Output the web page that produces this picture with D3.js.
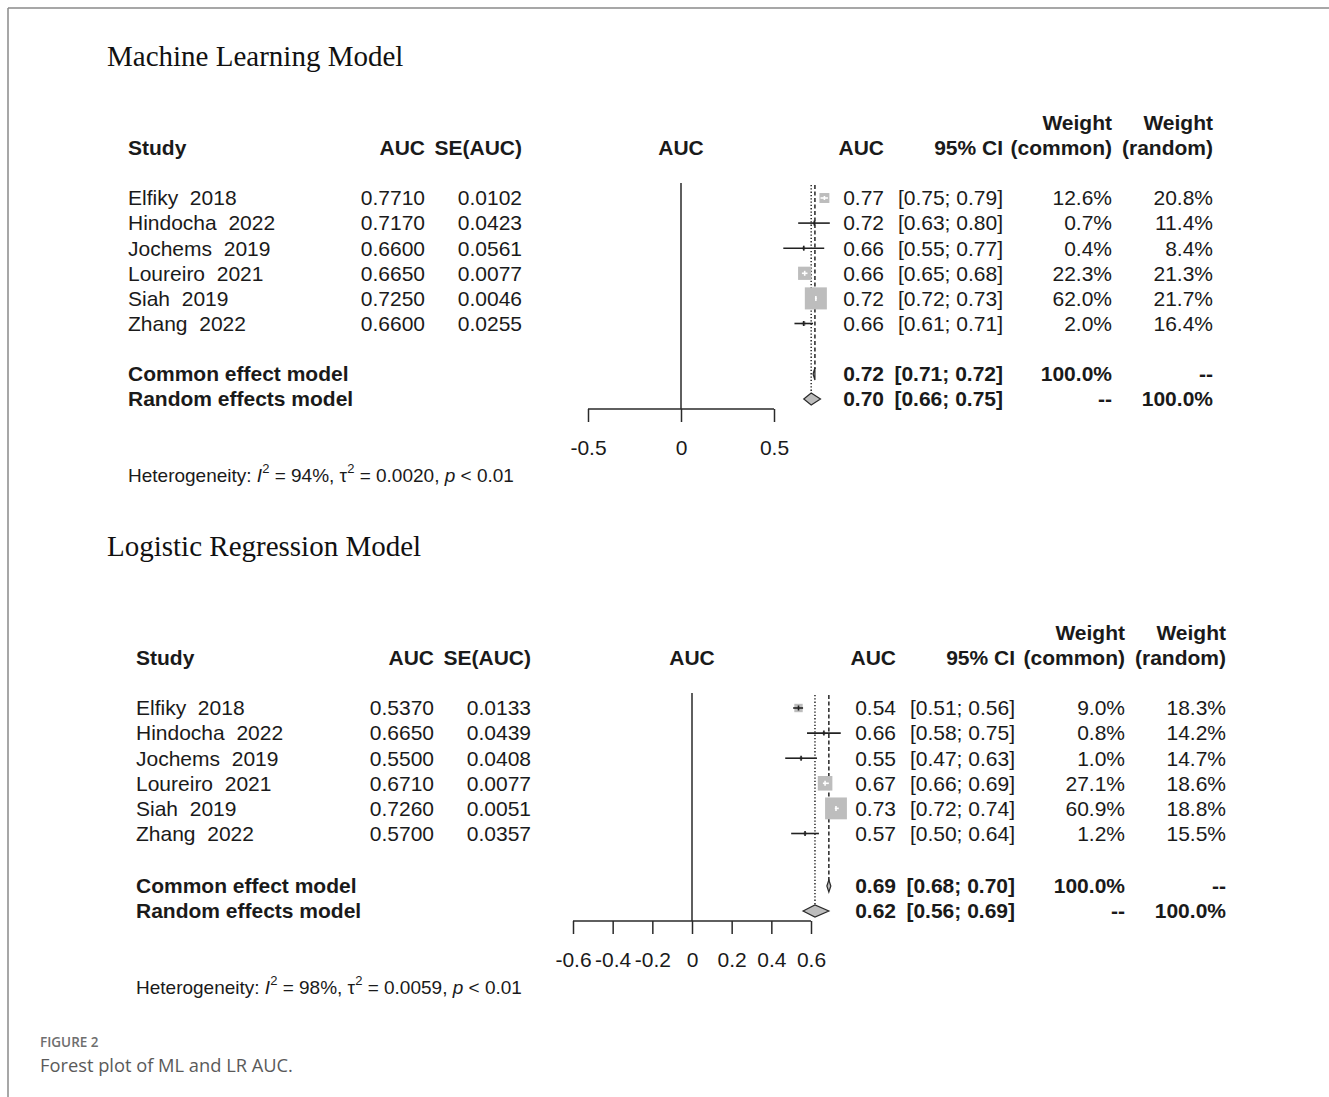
<!DOCTYPE html>
<html>
<head>
<meta charset="utf-8">
<script src="https://cdn.jsdelivr.net/npm/d3@7"></script>
<style>
  html, body { margin: 0; padding: 0; background: #fff; }
  svg text { white-space: pre; }
</style>
</head>
<body>
<svg id="fig" width="1329" height="1097"></svg>
<script>
// Study labels shared by both meta-analyses
const studies = ["Elfiky  2018", "Hindocha  2022", "Jochems  2019", "Loureiro  2021", "Siah  2019", "Zhang  2022"];

// Machine learning model: per-study AUC, SE, 95% CI and weights (%)
const mlAuc      = [0.7710, 0.7170, 0.6600, 0.6650, 0.7250, 0.6600];
const mlSe       = [0.0102, 0.0423, 0.0561, 0.0077, 0.0046, 0.0255];
const mlLower    = [0.75, 0.63, 0.55, 0.65, 0.72, 0.61];
const mlUpper    = [0.79, 0.80, 0.77, 0.68, 0.73, 0.71];
const mlWCommon  = [12.6, 0.7, 0.4, 22.3, 62.0, 2.0];
const mlWRandom  = [20.8, 11.4, 8.4, 21.3, 21.7, 16.4];
const mlCommon   = [0.72, 0.71, 0.72];   // estimate, lower, upper
const mlRandom   = [0.70, 0.66, 0.75];
const mlTicks    = [-0.5, 0, 0.5];
const mlHet      = ["94%", "0.0020", "0.01"];

// Logistic regression model
const lrAuc      = [0.5370, 0.6650, 0.5500, 0.6710, 0.7260, 0.5700];
const lrSe       = [0.0133, 0.0439, 0.0408, 0.0077, 0.0051, 0.0357];
const lrLower    = [0.51, 0.58, 0.47, 0.66, 0.72, 0.50];
const lrUpper    = [0.56, 0.75, 0.63, 0.69, 0.74, 0.64];
const lrWCommon  = [9.0, 0.8, 1.0, 27.1, 60.9, 1.2];
const lrWRandom  = [18.3, 14.2, 14.7, 18.6, 18.8, 15.5];
const lrCommon   = [0.69, 0.68, 0.70];
const lrRandom   = [0.62, 0.56, 0.69];
const lrTicks    = [-0.6, -0.4, -0.2, 0, 0.2, 0.4, 0.6];
const lrHet      = ["98%", "0.0059", "0.01"];

const svg = d3.select("#fig");
const SANS = "'Liberation Sans', Arial, sans-serif";
const SERIF = "'Liberation Serif', 'Times New Roman', serif";
const INK = "#1a1a1a";

// Page frame
svg.append("line").attr("x1", 8).attr("y1", 8).attr("x2", 1329).attr("y2", 8)
  .attr("stroke", "#8a8a8a").attr("stroke-width", 1.5);
svg.append("line").attr("x1", 8).attr("y1", 8).attr("x2", 8).attr("y2", 1097)
  .attr("stroke", "#8a8a8a").attr("stroke-width", 1.5);

const f1 = d3.format(".4f"), fp = d3.format(".1f");
// Two-decimal rounding, ties to even
function f2(v) {
  const s = v * 100, fl = Math.floor(s + 1e-9);
  const n = Math.abs(s - fl - 0.5) < 1e-6 ? (fl % 2 === 0 ? fl : fl + 1) : Math.round(s);
  return (n / 100).toFixed(2);
}

function forestPanel(cfg) {
  const g = svg.append("g");
  const { top } = cfg;
  const rowY = d3.scalePoint().domain(d3.range(6)).range([top + 50, top + 50 + 5 * 25.1]);
  const yCommon = top + 226 + cfg.sumShift, yRandom = yCommon + 25;
  const yAxis = yRandom + 10;
  const x = d3.scaleLinear().domain(cfg.domain).range(cfg.range);

  const txt = (tx, ty, s, opt = {}) => g.append("text")
    .attr("x", tx).attr("y", ty).attr("dy", "0.35em")
    .attr("font-family", opt.family || SANS)
    .attr("font-size", opt.size || 21)
    .attr("font-weight", opt.bold ? "bold" : "normal")
    .attr("text-anchor", opt.anchor || "start")
    .attr("fill", opt.fill || INK)
    .text(s);

  // Panel title
  txt(107, cfg.titleY, cfg.title, { family: SERIF, size: 29, fill: "#111" });

  // Column headers
  const hy = top;
  txt(cfg.cStudy, hy, "Study", { bold: true });
  txt(cfg.cAuc, hy, "AUC", { bold: true, anchor: "end" });
  txt(cfg.cSe, hy, "SE(AUC)", { bold: true, anchor: "end" });
  txt(x(0), hy, "AUC", { bold: true, anchor: "middle" });
  txt(cfg.cEst, hy, "AUC", { bold: true, anchor: "end" });
  txt(cfg.cCi, hy, "95% CI", { bold: true, anchor: "end" });
  txt(cfg.cWc, hy - 25, "Weight", { bold: true, anchor: "end" });
  txt(cfg.cWc, hy, "(common)", { bold: true, anchor: "end" });
  txt(cfg.cWr, hy - 25, "Weight", { bold: true, anchor: "end" });
  txt(cfg.cWr, hy, "(random)", { bold: true, anchor: "end" });

  // Study rows: text columns
  studies.forEach((s, i) => {
    const y = rowY(i);
    txt(cfg.cStudy, y, s);
    txt(cfg.cAuc, y, f1(cfg.auc[i]), { anchor: "end" });
    txt(cfg.cSe, y, f1(cfg.se[i]), { anchor: "end" });
    txt(cfg.cEst, y, f2(cfg.auc[i]), { anchor: "end" });
    txt(cfg.cCi, y, `[${f2(cfg.lower[i])}; ${f2(cfg.upper[i])}]`, { anchor: "end" });
    txt(cfg.cWc, y, fp(cfg.wc[i]) + "%", { anchor: "end" });
    txt(cfg.cWr, y, fp(cfg.wr[i]) + "%", { anchor: "end" });
  });

  // Summary rows
  txt(cfg.cStudy, yCommon, "Common effect model", { bold: true });
  txt(cfg.cStudy, yRandom, "Random effects model", { bold: true });
  txt(cfg.cEst, yCommon, f2(cfg.common[0]), { bold: true, anchor: "end" });
  txt(cfg.cCi, yCommon, `[${f2(cfg.common[1])}; ${f2(cfg.common[2])}]`, { bold: true, anchor: "end" });
  txt(cfg.cWc, yCommon, "100.0%", { bold: true, anchor: "end" });
  txt(cfg.cWr, yCommon, "--", { bold: true, anchor: "end" });
  txt(cfg.cEst, yRandom, f2(cfg.random[0]), { bold: true, anchor: "end" });
  txt(cfg.cCi, yRandom, `[${f2(cfg.random[1])}; ${f2(cfg.random[2])}]`, { bold: true, anchor: "end" });
  txt(cfg.cWc, yRandom, "--", { bold: true, anchor: "end" });
  txt(cfg.cWr, yRandom, "100.0%", { bold: true, anchor: "end" });

  // No-effect line and axis
  g.append("line").attr("x1", x(0)).attr("x2", x(0))
    .attr("y1", rowY(0) - 15).attr("y2", yAxis)
    .attr("stroke", "#2a2a2a").attr("stroke-width", 1.5);
  const axis = d3.axisBottom(x).tickValues(cfg.ticks).tickSize(13).tickSizeOuter(0)
    .tickFormat(d => d === 0 ? "0" : String(d));
  const ag = g.append("g").attr("transform", `translate(0,${yAxis})`).call(axis);
  ag.select(".domain").attr("stroke", "#2a2a2a").attr("stroke-width", 1.5)
    .attr("d", `M${x(cfg.ticks[0])},0H${x(cfg.ticks[cfg.ticks.length - 1])}`);
  ag.selectAll(".tick line").attr("stroke", "#2a2a2a").attr("stroke-width", 1.5);
  ag.selectAll(".tick text").attr("font-family", SANS).attr("font-size", 21)
    .attr("fill", INK).attr("y", 39).attr("dy", "0.35em");

  // Reference lines: common (dashed) and random (dotted)
  g.append("line").attr("x1", x(cfg.common[0])).attr("x2", x(cfg.common[0]))
    .attr("y1", rowY(0) - 13).attr("y2", yCommon - 5)
    .attr("stroke", "#333").attr("stroke-width", 1.6).attr("stroke-dasharray", "4,2.5");
  g.append("line").attr("x1", x(cfg.random[0])).attr("x2", x(cfg.random[0]))
    .attr("y1", rowY(0) - 13).attr("y2", yRandom - 6)
    .attr("stroke", "#333").attr("stroke-width", 1.6).attr("stroke-dasharray", "1.3,2");

  // Study squares and confidence intervals
  studies.forEach((s, i) => {
    const y = rowY(i);
    const cx = x(cfg.auc[i]);
    const side = Math.max(2.8 * Math.sqrt(cfg.wc[i]), 3);
    const lo = x(cfg.lower[i]), hi = x(cfg.upper[i]);
    const inside = lo >= cx - side / 2 && hi <= cx + side / 2;
    g.append("rect").attr("x", cx - side / 2).attr("y", y - side / 2)
      .attr("width", side).attr("height", side).attr("fill", "#bdbdbd");
    const c = inside ? "#ffffff" : "#222";
    g.append("line").attr("x1", lo).attr("x2", hi).attr("y1", y).attr("y2", y)
      .attr("stroke", c).attr("stroke-width", 1.6);
    const th = inside ? Math.min(side * 0.4, 5) : 5;
    g.append("line").attr("x1", cx).attr("x2", cx).attr("y1", y - th / 2).attr("y2", y + th / 2)
      .attr("stroke", c).attr("stroke-width", 1.6);
  });

  // Summary diamonds
  [[cfg.common, yCommon], [cfg.random, yRandom]].forEach(([v, y]) => {
    const pts = [[x(v[1]), y], [x(v[0]), y - 6], [x(v[2]), y], [x(v[0]), y + 6]];
    g.append("path").attr("d", d3.line()(pts) + "Z")
      .attr("fill", "#bdbdbd").attr("stroke", "#2a2a2a").attr("stroke-width", 1.2);
  });

  // Heterogeneity statement
  const ht = g.append("text").attr("x", cfg.cStudy).attr("y", yAxis + 66).attr("dy", "0.35em")
    .attr("font-family", SANS).attr("font-size", 19).attr("fill", INK);
  ht.append("tspan").text("Heterogeneity: ");
  ht.append("tspan").attr("font-style", "italic").text("I");
  ht.append("tspan").attr("font-size", 13).attr("dy", -9).text("2");
  ht.append("tspan").attr("dy", 9).text(` = ${cfg.het[0]}, τ`);
  ht.append("tspan").attr("font-size", 13).attr("dy", -9).text("2");
  ht.append("tspan").attr("dy", 9).text(` = ${cfg.het[1]}, `);
  ht.append("tspan").attr("font-style", "italic").text("p");
  ht.append("tspan").text(` < ${cfg.het[2]}`);
}

forestPanel({
  title: "Machine Learning Model", titleY: 56, top: 148, sumShift: 0,
  auc: mlAuc, se: mlSe, lower: mlLower, upper: mlUpper, wc: mlWCommon, wr: mlWRandom,
  common: mlCommon, random: mlRandom, ticks: mlTicks, het: mlHet,
  domain: [-0.5, 0.5], range: [588, 774],
  cStudy: 128, cAuc: 425, cSe: 522, cEst: 884, cCi: 1003, cWc: 1112, cWr: 1213
});

forestPanel({
  title: "Logistic Regression Model", titleY: 546, top: 658, sumShift: 2,
  auc: lrAuc, se: lrSe, lower: lrLower, upper: lrUpper, wc: lrWCommon, wr: lrWRandom,
  common: lrCommon, random: lrRandom, ticks: lrTicks, het: lrHet,
  domain: [-0.6, 0.6], range: [573, 811],
  cStudy: 136, cAuc: 434, cSe: 531, cEst: 896, cCi: 1015, cWc: 1125, cWr: 1226
});

// Figure caption
svg.append("text").attr("x", 40).attr("y", 1042).attr("dy", "0.35em")
  .attr("font-family", "'Open Sans', sans-serif").attr("font-size", 13.5)
  .attr("font-weight", 600).attr("fill", "#6e6e6e").text("FIGURE 2");
svg.append("text").attr("x", 40).attr("y", 1066).attr("dy", "0.35em")
  .attr("font-family", "'Open Sans', sans-serif").attr("font-size", 18.3)
  .attr("fill", "#5a5a5a").text("Forest plot of ML and LR AUC.");
</script>
</body>
</html>
